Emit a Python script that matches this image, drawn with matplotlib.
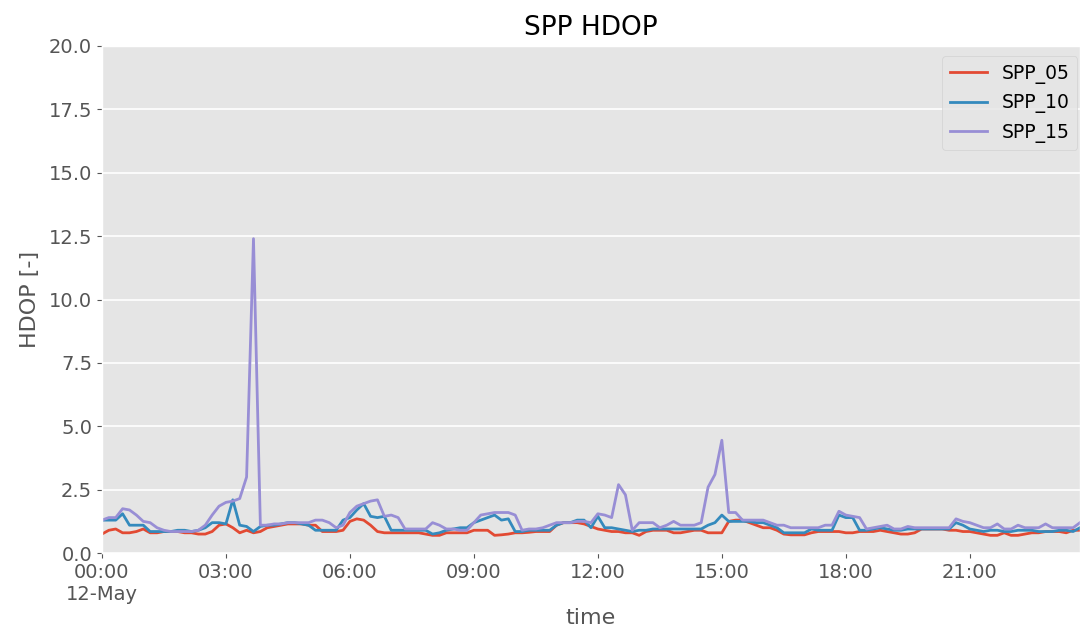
import numpy as np
import pandas as pd
import matplotlib
matplotlib.use("Agg")
import matplotlib.pyplot as plt
import matplotlib.dates as mdates

plt.style.use("ggplot")

# 10 minute samples, 12-May 00:00 .. 23:40
times = pd.date_range("2019-05-12 00:00", periods=143, freq="10min")

spp_05 = [
    0.75, 0.9, 0.95, 0.8, 0.8, 0.85,
    0.95, 0.8, 0.8, 0.85, 0.85, 0.85,
    0.8, 0.8, 0.75, 0.75, 0.85, 1.1,
    1.15, 1.0, 0.8, 0.9, 0.8, 0.85,
    1.0, 1.05, 1.1, 1.15, 1.15, 1.15,
    1.1, 1.1, 0.85, 0.85, 0.85, 0.9,
    1.25, 1.35, 1.3, 1.1, 0.85, 0.8,
    0.8, 0.8, 0.8, 0.8, 0.8, 0.75,
    0.7, 0.7, 0.8, 0.8, 0.8, 0.8,
    0.9, 0.9, 0.9, 0.7, 0.72, 0.75,
    0.8, 0.8, 0.82, 0.85, 0.85, 0.85,
    1.1, 1.2, 1.2, 1.2, 1.15, 1.05,
    0.95, 0.9, 0.85, 0.85, 0.8, 0.8,
    0.7, 0.85, 0.9, 0.9, 0.9, 0.8,
    0.8, 0.85, 0.9, 0.9, 0.8, 0.8,
    0.8, 1.25, 1.3, 1.3, 1.2, 1.1,
    1.0, 1.0, 0.9, 0.75, 0.72, 0.72,
    0.72, 0.8, 0.85, 0.85, 0.85, 0.85,
    0.8, 0.8, 0.85, 0.85, 0.85, 0.9,
    0.85, 0.8, 0.75, 0.75, 0.8, 0.95,
    0.95, 0.95, 0.95, 0.9, 0.9, 0.85,
    0.85, 0.8, 0.75, 0.7, 0.7, 0.8,
    0.7, 0.7, 0.75, 0.8, 0.8, 0.85,
    0.85, 0.85, 0.8, 0.9, 0.9,
]

spp_10 = [
    1.3, 1.3, 1.3, 1.55, 1.1, 1.1,
    1.1, 0.85, 0.85, 0.85, 0.85, 0.9,
    0.9, 0.85, 0.9, 1.0, 1.2, 1.2,
    1.15, 2.1, 1.1, 1.05, 0.85, 1.05,
    1.1, 1.1, 1.15, 1.2, 1.2, 1.15,
    1.1, 0.9, 0.9, 0.9, 0.9, 1.3,
    1.4, 1.7, 1.95, 1.45, 1.4, 1.45,
    0.9, 0.9, 0.9, 0.9, 0.9, 0.9,
    0.75, 0.8, 0.9, 0.95, 1.0, 1.0,
    1.2, 1.3, 1.4, 1.5, 1.3, 1.35,
    0.85, 0.85, 0.9, 0.9, 0.9, 0.9,
    1.1, 1.2, 1.2, 1.3, 1.3, 1.0,
    1.45, 1.0, 1.0, 0.95, 0.9, 0.85,
    0.9, 0.9, 0.95, 0.95, 0.95, 0.95,
    0.95, 0.95, 0.95, 0.95, 1.1, 1.2,
    1.5, 1.25, 1.25, 1.25, 1.25, 1.2,
    1.2, 1.1, 1.0, 0.8, 0.8, 0.8,
    0.8, 0.95, 0.9, 0.9, 0.9, 1.5,
    1.4, 1.4, 0.9, 0.9, 0.95, 1.0,
    0.95, 0.9, 0.9, 0.95, 0.95, 0.95,
    0.95, 0.95, 0.95, 0.95, 1.2, 1.1,
    0.95, 0.9, 0.85, 0.9, 0.9, 0.85,
    0.85, 0.9, 0.9, 0.9, 0.85, 0.85,
    0.85, 0.9, 0.9, 0.85, 1.0,
]

spp_15 = [
    1.3, 1.4, 1.4, 1.75, 1.7, 1.5,
    1.25, 1.2, 1.0, 0.9, 0.85, 0.85,
    0.85, 0.85, 0.9, 1.1, 1.5, 1.85,
    2.0, 2.05, 2.15, 3.0, 12.4, 1.1,
    1.1, 1.15, 1.15, 1.2, 1.2, 1.2,
    1.2, 1.3, 1.3, 1.2, 1.0, 1.1,
    1.6, 1.85, 1.95, 2.05, 2.1, 1.45,
    1.5, 1.4, 0.95, 0.95, 0.95, 0.95,
    1.2, 1.1, 0.95, 0.95, 0.9, 0.9,
    1.2, 1.5, 1.55, 1.6, 1.6, 1.6,
    1.5, 0.9, 0.95, 0.95, 1.0, 1.1,
    1.2, 1.2, 1.2, 1.25, 1.25, 1.2,
    1.55, 1.5, 1.4, 2.7, 2.3, 0.9,
    1.2, 1.2, 1.2, 1.0, 1.1, 1.25,
    1.1, 1.1, 1.1, 1.2, 2.6, 3.1,
    4.45, 1.6, 1.6, 1.3, 1.3, 1.3,
    1.3, 1.2, 1.1, 1.1, 1.0, 1.0,
    1.0, 1.0, 1.0, 1.1, 1.1, 1.65,
    1.5, 1.45, 1.4, 0.95, 1.0, 1.05,
    1.1, 0.95, 0.95, 1.05, 1.0, 1.0,
    1.0, 1.0, 1.0, 1.0, 1.35, 1.25,
    1.2, 1.1, 1.0, 1.0, 1.15, 0.95,
    0.95, 1.1, 1.0, 1.0, 1.0, 1.15,
    1.0, 1.0, 1.0, 1.0, 1.2,
]

fig = plt.figure(figsize=(10.8, 6.35), dpi=100)
ax = fig.add_axes([0.0944, 0.129, 0.9056, 0.7986])

ax.plot(times, spp_05, lw=2, label="SPP_05")
ax.plot(times, spp_10, lw=2, label="SPP_10")
ax.plot(times, spp_15, lw=2, label="SPP_15")

ax.set_xlim(times[0], times[-1])
ax.set_ylim(0, 20)
ax.set_yticks(np.arange(0, 20.1, 2.5))
ax.yaxis.set_major_formatter(matplotlib.ticker.FormatStrFormatter("%.1f"))

ax.xaxis.set_major_locator(mdates.HourLocator(byhour=range(0, 24, 3)))


def fmt_time(x, pos):
    d = mdates.num2date(x)
    s = d.strftime("%H:%M")
    if d.hour == 0:
        s += "\n" + d.strftime("%d-%b")
    return s


ax.xaxis.set_major_formatter(matplotlib.ticker.FuncFormatter(fmt_time))
ax.grid(False, axis="x")
ax.grid(True, axis="y", color="white", lw=1.2)

ax.tick_params(labelsize=14)
ax.set_title("SPP HDOP", fontsize=19, pad=8)
ax.set_ylabel("HDOP [-]", fontsize=16, labelpad=6)
ax.set_xlabel("time", fontsize=16, labelpad=3)
ax.legend(loc="upper right", fontsize=13.5, bbox_to_anchor=(1.007, 0.998))

fig.savefig("out.png", dpi=100)
